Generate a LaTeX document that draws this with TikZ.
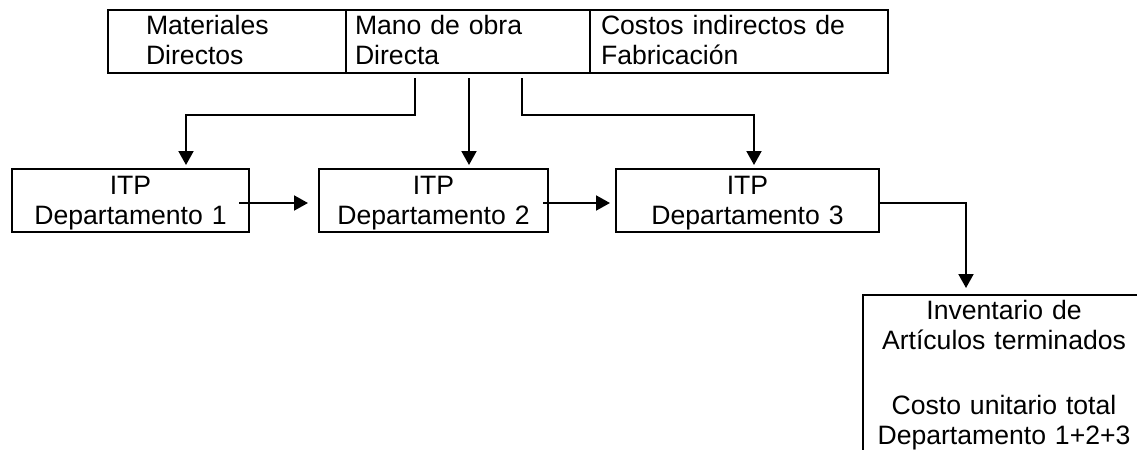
\documentclass[tikz,border=0pt]{standalone}
\usepackage{fontspec}
\setmainfont{Liberation Sans}
\usetikzlibrary{arrows.meta,calc}
\begin{document}
\begin{tikzpicture}[x=0.5pt,y=-0.5pt,
  every node/.style={font=\fontsize{13.3pt}{15pt}\selectfont, inner ysep=0pt},
  cell/.style={draw, line width=1pt, anchor=north west, align=left, text height=12.2pt, text depth=19.3pt},
  itp/.style={draw, line width=1pt, anchor=north west, align=center, inner xsep=0pt, text height=12.75pt, text depth=18.75pt},
  arr/.style={line width=1pt, -{Triangle[length=7pt,width=7.5pt]}},
]
\path[use as bounding box, clip] (0,0) rectangle (1137,450);
\fill[white] (0,0) rectangle (1137,450);

% top row
\node[cell, inner xsep=19pt, text width=81pt] (mat) at (107,9) {Materiales\\Directos};
\node[cell, inner xsep=4.5pt, text width=113pt] (mano) at (345,9) {Mano de obra\\Directa};
\node[cell, inner xsep=5.5pt, text width=138pt] (cif) at (589,9) {Costos indirectos de\\Fabricación};

% ITP boxes
\node[itp, text width=118.5pt] (itp1) at (11,168) {ITP\\Departamento 1};
\node[itp, text width=114.5pt] (itp2) at (318,168) {ITP\\Departamento 2};
\node[itp, text width=131.5pt] (itp3) at (615,168) {ITP\\Departamento 3};

% inventory
\node[draw, line width=1pt, anchor=north west, align=center, inner xsep=0pt, text width=141pt, text height=12pt, text depth=76pt] (inv) at (862,294)
  {Inventario de\\Artículos terminados\\[17.5pt]Costo unitario total\\Departamento 1+2+3};

% connectors
\draw[arr, shorten <=2pt, shorten >=1.5pt] ([xshift=35pt]mano.south west) -- ++(0,41) -| ([xshift=87.5pt]itp1.north west);
\draw[arr, shorten <=2pt, shorten >=1.5pt] ([xshift=62pt]mano.south west) -- ([xshift=75.5pt]itp2.north west);
\draw[arr, shorten <=2pt, shorten >=1.5pt] ([xshift=88.5pt]mano.south west) -- ++(0,41) -| ([xshift=69.5pt]itp3.north west);

\draw[arr, shorten >=5pt] ([xshift=-5.5pt,yshift=-1.25pt]itp1.east) -- ([yshift=-1.25pt]itp2.west);
\draw[arr, shorten >=2.5pt] ([xshift=-3pt,yshift=-1.25pt]itp2.east) -- ([yshift=-1.25pt]itp3.west);
\draw[arr, shorten >=3pt] ([yshift=-1.25pt]itp3.east) -| ([xshift=52pt]inv.north west);
\end{tikzpicture}
\end{document}
